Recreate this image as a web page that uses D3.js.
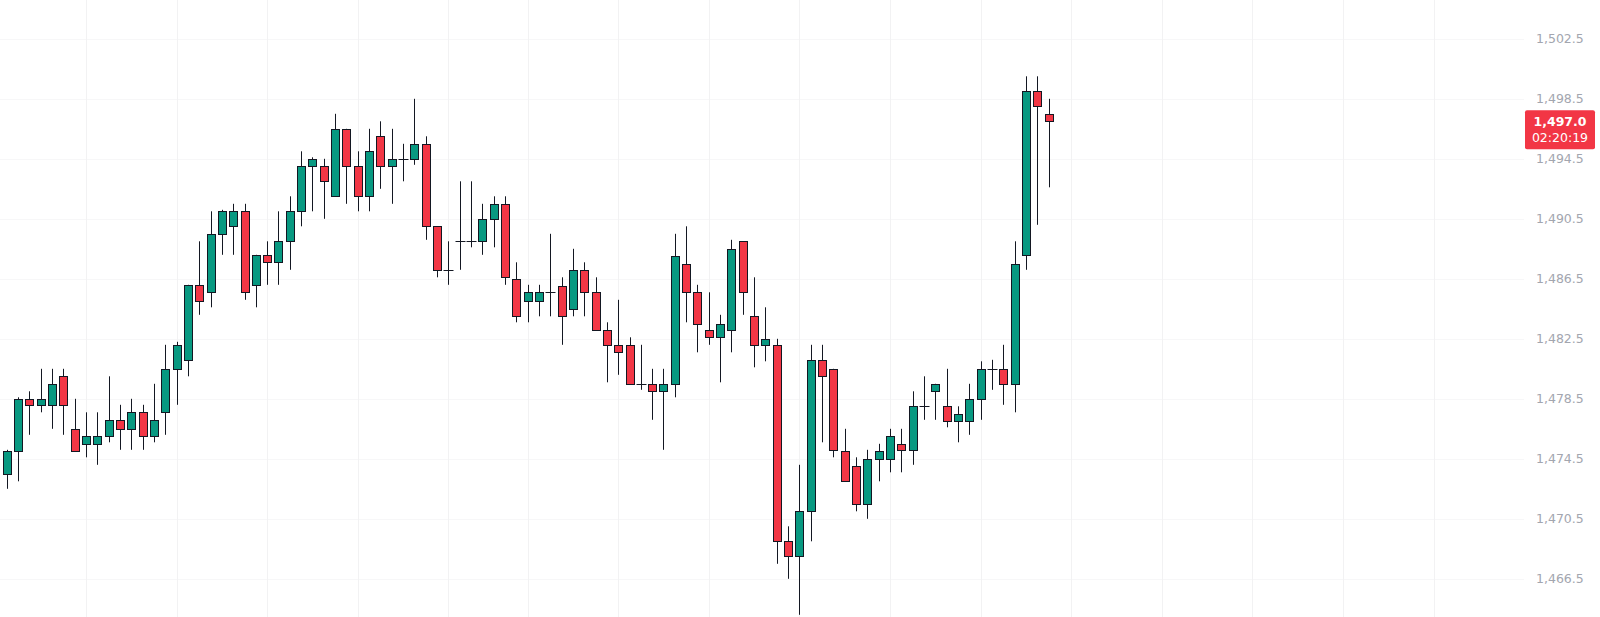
<!DOCTYPE html>
<html>
<head>
<meta charset="utf-8">
<script src="https://cdn.jsdelivr.net/npm/d3@7"></script>
<style>
html,body{margin:0;padding:0;background:#ffffff;}
svg{display:block;}
</style>
</head>
<body>
<svg id="chart" width="1600" height="617"></svg>
<script>
const opens  = [1473.5,1475.0,1478.5,1478.1,1478.1,1480.0,1476.5,1475.5,1475.5,1476.0,1477.1,1476.5,1477.6,1476.0,1477.6,1480.5,1481.1,1486.1,1485.6,1489.5,1490.0,1491.0,1486.1,1488.1,1487.6,1489.0,1491.0,1494.0,1494.0,1492.0,1496.5,1494.0,1492.0,1496.0,1494.0,1494.5,1494.5,1495.5,1490.0,1487.1,1489.0,1489.0,1489.0,1490.5,1491.5,1486.5,1485.0,1485.0,1485.6,1486.0,1484.5,1487.1,1485.6,1483.1,1482.1,1482.1,1479.5,1479.5,1479.0,1479.5,1487.5,1485.6,1483.1,1482.6,1483.1,1489.0,1484.0,1482.1,1482.1,1469.0,1468.0,1471.0,1481.1,1480.5,1475.0,1474.0,1471.5,1474.5,1474.5,1475.5,1475.1,1478.0,1479.0,1478.0,1477.0,1477.0,1478.5,1480.5,1480.5,1479.5,1488.1,1499.0,1497.5];
const highs  = [1475.1,1478.6,1479.0,1480.5,1480.5,1480.5,1478.5,1477.6,1477.6,1480.0,1478.1,1478.5,1478.1,1479.5,1482.1,1482.3,1486.1,1489.0,1491.0,1491.1,1491.5,1491.5,1488.1,1489.0,1491.0,1492.0,1495.0,1494.6,1494.5,1497.5,1496.5,1495.0,1496.5,1497.0,1496.5,1495.5,1498.5,1496.0,1490.0,1489.0,1493.0,1493.0,1491.5,1492.0,1492.0,1487.6,1486.1,1486.1,1489.5,1486.6,1488.5,1487.6,1486.6,1483.6,1485.1,1482.6,1482.1,1480.5,1480.5,1489.5,1490.0,1486.1,1485.6,1484.1,1489.1,1489.0,1486.6,1484.6,1482.5,1470.0,1474.1,1482.1,1482.1,1480.5,1476.5,1474.6,1475.1,1475.5,1476.5,1476.5,1479.0,1480.0,1479.5,1480.5,1478.0,1479.5,1481.0,1481.1,1482.1,1489.0,1500.0,1500.0,1498.5];
const lows   = [1472.5,1473.0,1476.1,1477.6,1476.5,1476.1,1475.0,1474.6,1474.1,1475.6,1475.1,1475.1,1475.1,1475.6,1476.1,1478.1,1480.0,1484.1,1484.6,1488.1,1488.1,1485.1,1484.6,1486.1,1486.1,1487.1,1490.0,1491.0,1490.5,1492.0,1491.5,1491.0,1491.0,1492.5,1491.5,1493.0,1494.1,1489.1,1486.6,1486.1,1487.1,1488.6,1488.1,1488.6,1486.1,1483.6,1483.6,1484.0,1484.0,1482.1,1484.0,1484.0,1483.1,1479.6,1480.1,1479.5,1479.1,1477.1,1475.1,1478.6,1483.6,1481.6,1482.1,1479.6,1481.6,1484.1,1480.6,1481.0,1467.5,1466.5,1464.1,1469.0,1475.6,1474.6,1473.0,1471.0,1470.5,1473.0,1473.6,1473.6,1474.1,1477.1,1477.1,1476.6,1475.6,1476.1,1477.1,1479.1,1478.1,1477.6,1487.1,1490.1,1492.6];
const closes = [1475.0,1478.5,1478.1,1478.5,1479.5,1478.1,1475.0,1476.0,1476.0,1477.1,1476.5,1477.6,1476.0,1477.1,1480.5,1482.1,1486.1,1485.0,1489.5,1491.0,1491.0,1485.6,1488.1,1487.6,1489.0,1491.0,1494.0,1494.5,1493.0,1496.5,1494.0,1492.0,1495.0,1494.0,1494.5,1494.5,1495.5,1490.0,1487.1,1487.1,1489.0,1489.0,1490.5,1491.5,1486.6,1484.0,1485.6,1485.6,1485.6,1484.0,1487.1,1485.6,1483.1,1482.1,1481.6,1479.5,1479.5,1479.0,1479.5,1488.0,1485.6,1483.5,1482.6,1483.5,1488.5,1485.6,1482.1,1482.5,1469.0,1468.0,1471.0,1481.1,1480.0,1475.1,1473.0,1471.5,1474.5,1475.0,1476.0,1475.1,1478.0,1478.0,1479.5,1477.0,1477.5,1478.5,1480.5,1480.5,1479.5,1487.5,1499.0,1498.0,1497.0];
const priceTicks = [1466.5,1470.5,1474.5,1478.5,1482.5,1486.5,1490.5,1494.5,1498.5,1502.5];
const timeGridBars = [7,15,23,31,39,46,54,62,70,78,86,94,102,110,118,126];
const lastPriceText = "1,497.0";
const countdownText = "02:20:19";

const W = 1600, H = 617;
const plotRight = 1524;
const svg = d3.select("#chart");

const candles = opens.map((o,i)=>({i, o, h:highs[i], l:lows[i], c:closes[i]}));

const x = d3.scaleLinear().domain([0, 92]).range([6.7, 6.7 + 11.324*92]);
const y = d3.scaleLinear().domain([1466.5, 1502.5]).range([578.8, 38.8]);

const UP = "#089981", DOWN = "#F23645";
const crisp = v => Math.round(v) + 0.5;

// grid
const grid = svg.append("g");
grid.selectAll("line.h").data(priceTicks).join("line")
  .attr("x1", 0).attr("x2", plotRight)
  .attr("y1", d => crisp(y(d))).attr("y2", d => crisp(y(d)))
  .attr("stroke", "#f7f7f8").attr("stroke-width", 1);
grid.selectAll("line.v").data(timeGridBars.filter(b => x(b) < plotRight)).join("line")
  .attr("x1", d => crisp(x(d))).attr("x2", d => crisp(x(d)))
  .attr("y1", 0).attr("y2", H)
  .attr("stroke", "#f2f2f3").attr("stroke-width", 1);

// candles
const bodyW = 8;
const g = svg.append("g");
const cg = g.selectAll("g.c").data(candles).join("g");
cg.append("line")
  .attr("x1", d => crisp(x(d.i))).attr("x2", d => crisp(x(d.i)))
  .attr("y1", d => y(d.h)).attr("y2", d => y(d.l))
  .attr("stroke", "#131722").attr("stroke-width", 1);
cg.filter(d => d.o !== d.c).append("rect")
  .attr("x", d => Math.round(x(d.i)) - bodyW/2 + 0.5)
  .attr("y", d => Math.round(y(Math.max(d.o,d.c))) + 0.5)
  .attr("width", bodyW)
  .attr("height", d => Math.max(1, Math.round(y(Math.min(d.o,d.c))) - Math.round(y(Math.max(d.o,d.c)))))
  .attr("fill", d => d.c > d.o ? UP : DOWN)
  .attr("stroke", "#131722").attr("stroke-width", 1);
cg.filter(d => d.o === d.c).append("line")
  .attr("x1", d => Math.round(x(d.i)) - bodyW/2 - 0.5)
  .attr("x2", d => Math.round(x(d.i)) + bodyW/2 + 1.5)
  .attr("y1", d => crisp(y(d.o))).attr("y2", d => crisp(y(d.o)))
  .attr("stroke", "#131722").attr("stroke-width", 1);

// price axis
const axisG = svg.append("g").attr("transform", `translate(${plotRight},0)`);
const axis = d3.axisRight(y).tickValues(priceTicks).tickFormat(d3.format(",.1f")).tickSize(0).tickPadding(12);
axisG.call(axis);
axisG.select(".domain").remove();
axisG.selectAll("text")
  .attr("fill", "#a3a6af")
  .style("font-family", "'DejaVu Sans', sans-serif")
  .style("font-size", "12.5px");

// last price label
const last = candles[candles.length-1];
const ly = y(last.c);
const lbl = svg.append("g");
lbl.append("rect")
  .attr("x", 1525).attr("y", ly - 11)
  .attr("width", 70).attr("height", 39)
  .attr("rx", 2).attr("fill", DOWN);
lbl.append("text")
  .attr("x", 1560).attr("y", ly).attr("dy", "0.36em")
  .attr("text-anchor", "middle").attr("fill", "#fff")
  .style("font-family", "'DejaVu Sans', sans-serif")
  .style("font-size", "12.5px").style("font-weight", "bold")
  .text(lastPriceText);
lbl.append("text")
  .attr("x", 1560).attr("y", ly + 16.5).attr("dy", "0.36em")
  .attr("text-anchor", "middle").attr("fill", "#fff")
  .style("font-family", "'DejaVu Sans', sans-serif")
  .style("font-size", "12.5px")
  .text(countdownText);
</script>
</body>
</html>
